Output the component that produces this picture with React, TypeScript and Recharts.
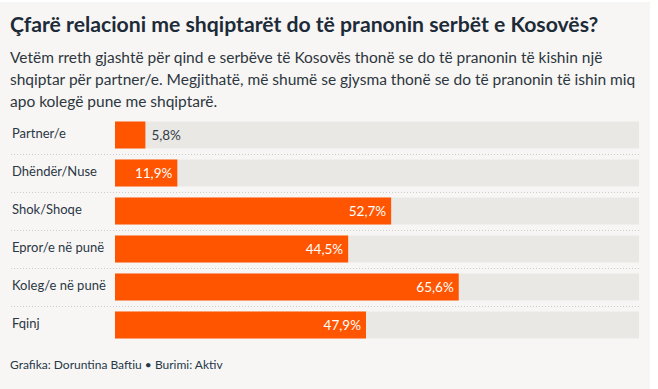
import { BarChart, Bar, XAxis, YAxis, LabelList } from 'recharts';

// Data (percent of Kosovo Serbs)
const categories = ['Partner/e', 'Dhëndër/Nuse', 'Shok/Shoqe', 'Epror/e në punë', 'Koleg/e në punë', 'Fqinj'];
const shares = [5.8, 11.9, 52.7, 44.5, 65.6, 47.9];

const TITLE = 'Çfarë relacioni me shqiptarët do të pranonin serbët e Kosovës?';
const SUBTITLE_LINES = [
  'Vetëm rreth gjashtë për qind e serbëve të Kosovës thonë se do të pranonin të kishin një',
  'shqiptar për partner/e. Megjithatë, më shumë se gjysma thonë se do të pranonin të ishin miq',
  'apo kolegë pune me shqiptarë.',
];
const SOURCE = 'Grafika: Doruntina Baftiu • Burimi: Aktiv';

const data = categories.map((label, i) => ({ label, value: shares[i] }));

const FONT = 'Lato, "Noto Sans", sans-serif';
const ORANGE = '#ff5500';
const TRACK = '#e9e8e5';
const PANEL = '#f7f6f4';
const INK = '#1d2b39';

function fmt(v: number): string {
  return v.toFixed(1).replace('.', ',') + '%';
}

// grey track + dotted separator under each row
const Track = (props: any) => {
  const { x, y, width, height, index } = props;
  const last = index === data.length - 1;
  const sepY = Math.round(y + height + 5.5) + 0.5;
  return (
    <g>
      <rect x={x} y={y} width={width} height={height} fill={TRACK} />
      {!last && (
        <line x1={11} x2={x + width} y1={sepY} y2={sepY} stroke="#cfcdca" strokeDasharray="1 2" />
      )}
    </g>
  );
};

const CategoryTick = (props: any) => {
  const { y, payload } = props;
  return (
    <text x={12} y={y} dy={3} textAnchor="start" fontFamily={FONT} fontSize={13} fill="#2b3744">
      {payload.value}
    </text>
  );
};

const ValueLabel = (props: any) => {
  const { x, y, width, height, value } = props;
  const inside = width > 40;
  const tx = inside ? x + width - 5 : x + width + 6;
  return (
    <text
      x={tx}
      y={y + height / 2}
      dy={5}
      textAnchor={inside ? 'end' : 'start'}
      fontFamily={FONT}
      fontSize={13.5}
      fill={inside ? '#ffffff' : '#333a44'}
    >
      {fmt(Number(value))}
    </text>
  );
};

export default function App() {
  return (
    <div style={{ position: 'absolute', left: 0, top: 0, width: 658, height: 389, background: '#fff', overflow: 'hidden' }}>
      <div style={{ position: 'absolute', left: 0, top: 2, width: 650, height: 387, background: PANEL }} />
      <div
        style={{
          position: 'absolute',
          left: 10,
          top: 12,
          fontFamily: FONT,
          fontWeight: 700,
          fontSize: 21.2,
          lineHeight: '24px',
          color: INK,
          whiteSpace: 'nowrap',
        }}
      >
        {TITLE}
      </div>
      <div
        style={{
          position: 'absolute',
          left: 10,
          top: 46,
          fontFamily: FONT,
          fontSize: 15.5,
          lineHeight: '22px',
          color: '#2e3640',
          whiteSpace: 'nowrap',
        }}
      >
        {SUBTITLE_LINES.map((l) => (
          <div key={l}>{l}</div>
        ))}
      </div>
      <div style={{ position: 'absolute', left: 0, top: 0 }}>
        <BarChart
          width={658}
          height={389}
          data={data}
          layout="vertical"
          margin={{ top: 115.5, right: 19, bottom: 45.5, left: 0 }}
        >
          <XAxis type="number" domain={[0, 100]} hide />
          <YAxis
            type="category"
            dataKey="label"
            width={115}
            axisLine={false}
            tickLine={false}
            tick={<CategoryTick />}
          />
          <Bar dataKey="value" fill={ORANGE} barSize={27} background={<Track />} isAnimationActive={false}>
            <LabelList dataKey="value" content={<ValueLabel />} />
          </Bar>
        </BarChart>
      </div>
      <div
        style={{
          position: 'absolute',
          left: 10,
          top: 357,
          fontFamily: FONT,
          fontSize: 12,
          lineHeight: '16px',
          color: '#26384a',
          whiteSpace: 'nowrap',
        }}
      >
        {SOURCE}
      </div>
    </div>
  );
}
